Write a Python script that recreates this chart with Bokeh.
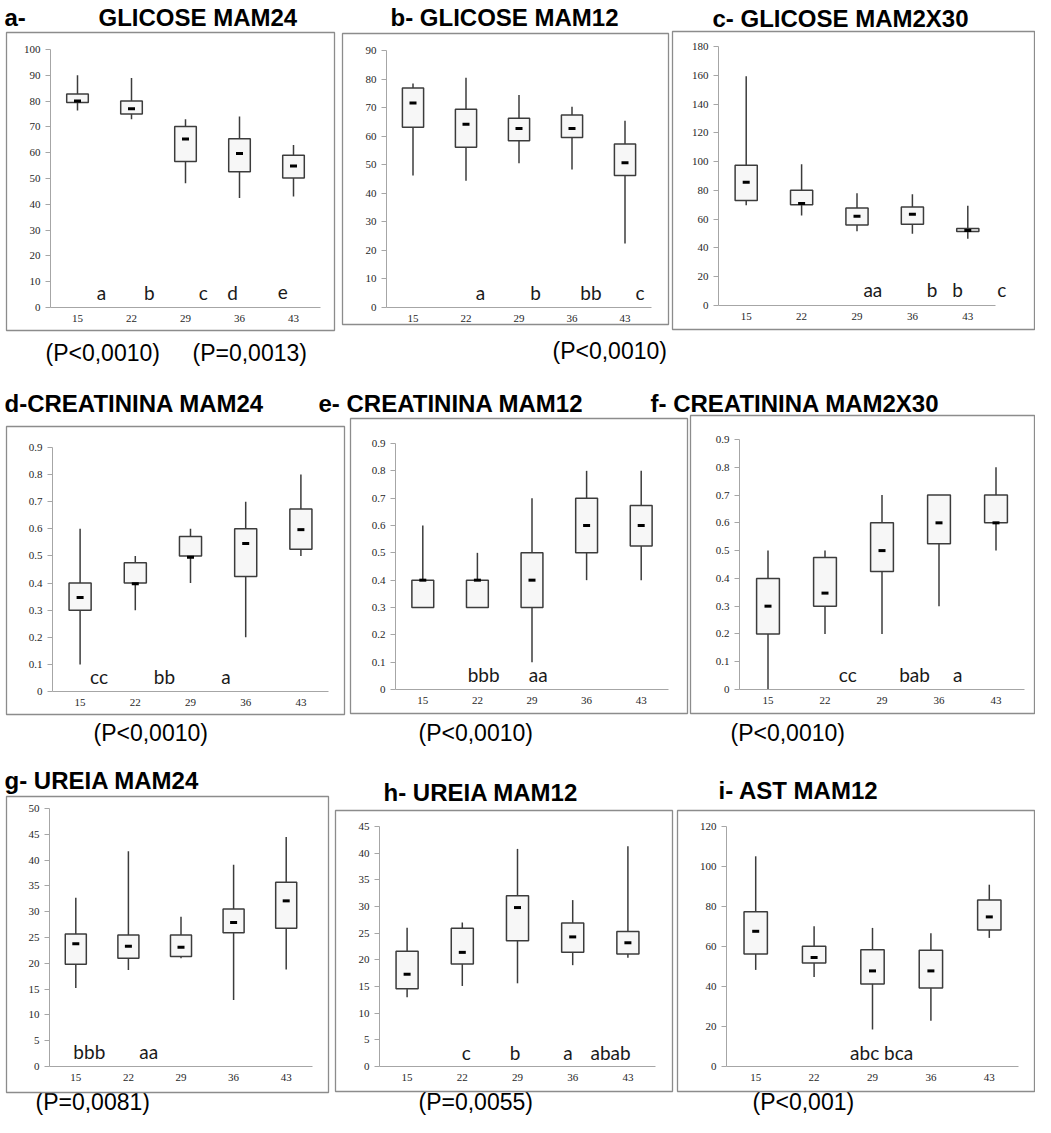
from bokeh.plotting import figure
from bokeh.models import Range1d, LinearAxis, FixedTicker, BoxAnnotation, ColumnDataSource
from bokeh.core.properties import value
from bokeh.embed import file_html
from bokeh.resources import INLINE

# ---------------- data ----------------
DAYS = [15, 22, 29, 36, 43]

A_HIGH = [90, 89, 73, 74, 63]
A_Q3 = [82.8, 80, 70.2, 65.4, 59]
A_MED = [80, 77, 65.3, 59.7, 54.8]
A_Q1 = [79.5, 75, 56.6, 52.6, 50.2]
A_LOW = [76.4, 73, 48.2, 42.4, 43]
A_YTICKS = [0, 10, 20, 30, 40, 50, 60, 70, 80, 90, 100]
A_LETTERS = ["a", "b", "c", "d", "e"]

B_HIGH = [78.4, 80.5, 74.4, 70.3, 65.4]
B_Q3 = [76.9, 69.4, 66.3, 67.4, 57.3]
B_MED = [71.6, 64.2, 62.7, 62.7, 50.7]
B_Q1 = [63.1, 56.1, 58.4, 59.5, 46.2]
B_LOW = [46.2, 44.4, 50.5, 48.3, 22.4]
B_YTICKS = [0, 10, 20, 30, 40, 50, 60, 70, 80, 90]
B_LETTERS = ["a", "b", "bb", "c"]

C_HIGH = [159.3, 98.2, 78, 77.3, 69.4]
C_Q3 = [97.5, 80.1, 67.8, 68.5, 53.5]
C_MED = [85.6, 70.9, 62.1, 63.5, 52.1]
C_Q1 = [73, 70.1, 55.9, 56.4, 51.4]
C_LOW = [69.7, 62.5, 51.6, 49.9, 46.4]
C_YTICKS = [0, 20, 40, 60, 80, 100, 120, 140, 160, 180]
C_LETTERS = ["aa", "b", "b", "c"]

D_HIGH = [0.6, 0.5, 0.6, 0.7, 0.8]
D_Q3 = [0.4, 0.475, 0.572, 0.6, 0.673]
D_MED = [0.347, 0.397, 0.495, 0.546, 0.597]
D_Q1 = [0.3, 0.4, 0.5, 0.424, 0.525]
D_LOW = [0.1, 0.3, 0.4, 0.2, 0.5]
D_YTICKS = [0, 0.1, 0.2, 0.3, 0.4, 0.5, 0.6, 0.7, 0.8, 0.9]
D_LETTERS = ["cc", "bb", "a"]

E_HIGH = [0.6, 0.5, 0.7, 0.8, 0.8]
E_Q3 = [0.4, 0.4, 0.5, 0.7, 0.673]
E_MED = [0.4, 0.4, 0.4, 0.6, 0.6]
E_Q1 = [0.3, 0.3, 0.3, 0.5, 0.525]
E_LOW = [0.3, 0.3, 0.1, 0.4, 0.4]
E_YTICKS = [0, 0.1, 0.2, 0.3, 0.4, 0.5, 0.6, 0.7, 0.8, 0.9]
E_LETTERS = ["bbb", "aa"]

F_HIGH = [0.5, 0.5, 0.7, 0.7, 0.8]
F_Q3 = [0.4, 0.475, 0.6, 0.7, 0.7]
F_MED = [0.3, 0.347, 0.5, 0.6, 0.6]
F_Q1 = [0.2, 0.3, 0.425, 0.525, 0.6]
F_LOW = [0.0, 0.2, 0.2, 0.3, 0.5]
F_YTICKS = [0, 0.1, 0.2, 0.3, 0.4, 0.5, 0.6, 0.7, 0.8, 0.9]
F_LETTERS = ["cc", "bab", "a"]

G_HIGH = [32.7, 41.7, 29, 39.1, 44.5]
G_Q3 = [25.7, 25.5, 25.5, 30.5, 35.7]
G_MED = [23.8, 23.3, 23.1, 27.9, 32.1]
G_Q1 = [19.8, 21, 21.3, 25.9, 26.8]
G_LOW = [15.2, 18.7, 21, 12.9, 18.8]
G_YTICKS = [0, 5, 10, 15, 20, 25, 30, 35, 40, 45, 50]
G_LETTERS = ["bbb", "aa"]

H_HIGH = [26, 27, 40.8, 31.2, 41.3]
H_Q3 = [21.6, 25.9, 32, 26.9, 25.3]
H_MED = [17.3, 21.4, 29.8, 24.3, 23.2]
H_Q1 = [14.6, 19.2, 23.6, 21.4, 21.1]
H_LOW = [13, 15.1, 15.6, 19, 20.4]
H_YTICKS = [0, 5, 10, 15, 20, 25, 30, 35, 40, 45]
H_LETTERS = ["c", "b", "a", "abab"]

I_HIGH = [105.1, 70.1, 69.3, 66.6, 90.9]
I_Q3 = [77.4, 60.1, 58.4, 58.1, 83.2]
I_MED = [67.6, 54.5, 47.8, 47.8, 74.8]
I_Q1 = [56.2, 51.7, 41.3, 39.3, 68.3]
I_LOW = [48.3, 44.7, 18.5, 22.9, 64.3]
I_YTICKS = [0, 20, 40, 60, 80, 100, 120]
I_LETTERS = ["abc bca"]

TITLES = ["GLICOSE MAM24", "b- GLICOSE MAM12", "c- GLICOSE MAM2X30",
          "d-CREATININA MAM24", "e- CREATININA MAM12", "f- CREATININA MAM2X30",
          "g- UREIA MAM24", "h- UREIA MAM12", "i- AST MAM12"]
PVALUES = ["(P<0,0010)", "(P=0,0013)", "(P<0,0010)", "(P<0,0010)", "(P<0,0010)",
           "(P<0,0010)", "(P=0,0081)", "(P=0,0055)", "(P<0,001)"]

PANELS = {
    "a": (A_HIGH, A_Q3, A_MED, A_Q1, A_LOW, A_YTICKS, A_LETTERS),
    "b": (B_HIGH, B_Q3, B_MED, B_Q1, B_LOW, B_YTICKS, B_LETTERS),
    "c": (C_HIGH, C_Q3, C_MED, C_Q1, C_LOW, C_YTICKS, C_LETTERS),
    "d": (D_HIGH, D_Q3, D_MED, D_Q1, D_LOW, D_YTICKS, D_LETTERS),
    "e": (E_HIGH, E_Q3, E_MED, E_Q1, E_LOW, E_YTICKS, E_LETTERS),
    "f": (F_HIGH, F_Q3, F_MED, F_Q1, F_LOW, F_YTICKS, F_LETTERS),
    "g": (G_HIGH, G_Q3, G_MED, G_Q1, G_LOW, G_YTICKS, G_LETTERS),
    "h": (H_HIGH, H_Q3, H_MED, H_Q1, H_LOW, H_YTICKS, H_LETTERS),
    "i": (I_HIGH, I_Q3, I_MED, I_Q1, I_LOW, I_YTICKS, I_LETTERS),
}

# ---------------- layout (page pixels) ----------------
W, H = 1035, 1117
OX, OY = 8, 8
# box = (left, top, right, bottom); ax = y-axis x; xend = end of x axis;
# y0 = pixel of value 0; ytop = pixel of top tick
LAYOUT = {
    "a": dict(box=(14, 40, 342, 338), ax=58, xend=328, y0=315, ytop=57),
    "b": dict(box=(350, 41, 676, 332), ax=394, xend=659, y0=315, ytop=58),
    "c": dict(box=(680, 39, 1042, 337), ax=726, xend=1003, y0=313, ytop=54),
    "d": dict(box=(14, 434, 352, 722), ax=60, xend=336, y0=699, ytop=455),
    "e": dict(box=(358, 426, 695, 721), ax=403, xend=676, y0=697, ytop=451),
    "f": dict(box=(698, 423, 1042, 721), ax=747, xend=1032, y0=697, ytop=447),
    "g": dict(box=(14, 804, 336, 1100), ax=57, xend=320, y0=1074, ytop=816),
    "h": dict(box=(343, 818, 680, 1099), ax=387, xend=663, y0=1074, ytop=834),
    "i": dict(box=(685, 818, 1042, 1099), ax=734, xend=1026, y0=1074, ytop=834),
}
LETTER_X = {
    "a": [18.1, 24.3, 31.3, 35.1, 41.6],
    "b": [23.9, 31.2, 38.5, 45.0],
    "c": [31.0, 38.5, 41.7, 47.3],
    "d": [17.4, 25.7, 33.5],
    "e": [22.8, 29.8],
    "f": [24.8, 33.0, 38.3],
    "g": [16.8, 24.7],
    "h": [22.5, 28.7, 35.4, 40.8],
    "i": [30.1],
}
LETTER_FRAC = 0.06
TITLE_POS = [(106, 25, "left"), (512, 25, "center"), (848, 26, "center"),
             (12, 411, "left"), (326, 411, "left"), (658, 411, "left"),
             (12, 788, "left"), (391, 800, "left"), (726, 798, "left")]
P_POS = [(53, 360), (200, 360), (560, 358), (101, 740), (426, 740), (738, 740),
         (43, 1109), (426, 1109), (760, 1109)]

AXIS_GRAY = "#a6a6a6"
BOX_LINE = "#3c3c3c"

p = figure(width=W, height=H, x_range=Range1d(OX, OX + W), y_range=Range1d(OY + H, OY),
           output_backend="svg", toolbar_location=None,
           x_axis_location=None, y_axis_location=None, min_border=0,
           outline_line_color=None, background_fill_color="white", border_fill_color="white")
p.grid.visible = False

xr, yr = {}, {}
for k, lay in LAYOUT.items():
    ymax = PANELS[k][5][-1]
    sx = (lay["xend"] - lay["ax"]) / 35.0
    xs = 11.5 - (lay["ax"] - OX) / sx
    xr[k] = Range1d(xs, xs + W / sx)
    sy = (lay["y0"] - lay["ytop"]) / ymax
    ys = -(OY + H - lay["y0"]) / sy
    yr[k] = Range1d(ys, ys + H / sy)
p.extra_x_ranges = xr
p.extra_y_ranges = yr

for k, lay in LAYOUT.items():
    high, q3, med, q1, low, yticks, letters = PANELS[k]
    L, T, R, B = lay["box"]
    p.add_layout(BoxAnnotation(left=L, right=R, top=T, bottom=B, fill_alpha=0,
                               line_color="#8c8c8c", line_alpha=1, line_width=1.3))
    src = ColumnDataSource(dict(x=DAYS, high=high, q3=q3, med=med, q1=q1, low=low))
    kw = dict(source=src, x_range_name=k, y_range_name=k)
    p.segment(x0="x", y0="low", x1="x", y1="high", line_color=BOX_LINE, line_width=1.5, **kw)
    p.vbar(x="x", width=2.8, top="q3", bottom="q1", fill_color="#f7f7f7",
           line_color=BOX_LINE, line_width=1.5, **kw)
    p.rect(x="x", y="med", width=7, height=3, width_units="screen", height_units="screen",
           fill_color="black", line_color=None, **kw)

    yax = LinearAxis(x_range_name=k, y_range_name=k, fixed_location=11.5,
                     bounds=(0, yticks[-1]), ticker=FixedTicker(ticks=yticks),
                     axis_line_color=AXIS_GRAY, axis_line_width=1,
                     major_tick_line_color=AXIS_GRAY, major_tick_out=5, major_tick_in=0,
                     minor_tick_line_color=None, major_label_standoff=5,
                     major_label_text_font="Liberation Serif",
                     major_label_text_font_size="11px", major_label_text_color="#262626")
    p.add_layout(yax, "left")
    xax = LinearAxis(x_range_name=k, y_range_name=k, fixed_location=0,
                     bounds=(11.5, 46.5), ticker=FixedTicker(ticks=DAYS),
                     axis_line_color=AXIS_GRAY, axis_line_width=1,
                     major_tick_line_color=None, major_tick_out=0, major_tick_in=0,
                     minor_tick_line_color=None, major_label_standoff=7,
                     major_label_text_font="Liberation Serif",
                     major_label_text_font_size="11px", major_label_text_color="#262626")
    p.add_layout(xax, "below")

    lsrc = ColumnDataSource(dict(x=LETTER_X[k], y=[LETTER_FRAC * yticks[-1]] * len(letters),
                                 t=letters))
    p.text(x="x", y="y", text="t", source=lsrc, x_range_name=k, y_range_name=k,
           text_font=value("Lato"), text_font_size="19px", text_color="#1a1a1a",
           text_align="center", text_baseline="middle")

# titles
p.text(x=[12], y=[25], text=["a-"], text_font=value("Liberation Sans"), text_font_style="bold",
       text_font_size="24px", text_align="left", text_baseline="middle", text_color="black")
for t, (x, y, al) in zip(TITLES, TITLE_POS):
    p.text(x=[x], y=[y], text=[t], text_font=value("Liberation Sans"), text_font_style="bold",
           text_font_size="24px", text_align=al, text_baseline="middle", text_color="black")
for t, (x, y) in zip(PVALUES, P_POS):
    p.text(x=[x], y=[y], text=[t], text_font=value("Liberation Sans"),
           text_font_size="23px", text_align="left", text_baseline="middle", text_color="black")

open("out.html", "w").write(file_html(p, INLINE))
